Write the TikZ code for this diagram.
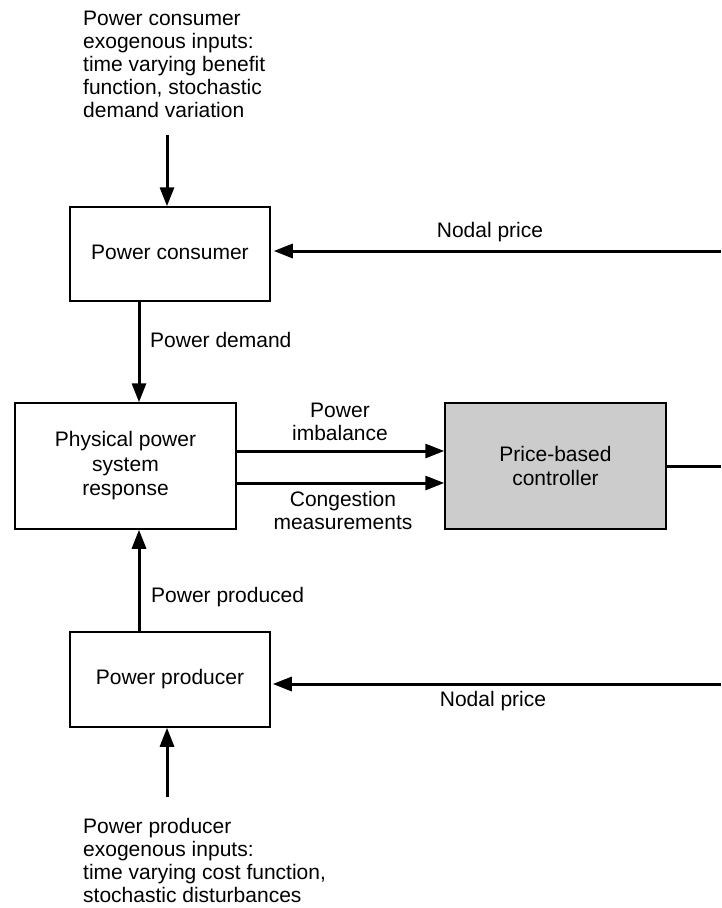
\documentclass[tikz,border=0pt]{standalone}
\usepackage{fontspec}
\setmainfont{Liberation Sans}
\usetikzlibrary{arrows.meta}
\definecolor{ctrlgray}{HTML}{CCCCCC}
\tikzset{
  blk/.style={draw=black, line width=1.5pt, minimum width=200pt, minimum height=94pt,
    align=center, inner sep=0pt, font=\fontsize{21}{24.5}\selectfont},
  wide/.style={blk, minimum width=221pt, minimum height=126pt},
  flow/.style={line width=3pt, -{Triangle[length=19pt,width=14pt]}},
  plain/.style={line width=3pt},
  lbl/.style={inner sep=0pt, font=\fontsize{21}{23}\selectfont},
}
\begin{document}
\begin{tikzpicture}[x=1pt,y=-1pt]
\useasboundingbox (0,0) rectangle (721,908);

% blocks
\node[blk] (cons) at (170,254) {\raisebox{3pt}{Power consumer}};
\node[wide] (phys) at (125.5,466) {Physical power\\system\\response};
\node[wide, fill=ctrlgray] (ctrl) at (555.5,466) {Price-based\\controller};
\node[blk, minimum height=95pt] (prod) at (170,679.5) {Power producer};

% exogenous inputs
\node[lbl, align=left, anchor=west] (consin) at (83,64)
  {Power consumer\\exogenous inputs:\\time varying benefit\\function, stochastic\\demand variation};
\node[lbl, align=left, anchor=west] (prodin) at (83,860)
  {Power producer\\exogenous inputs:\\time varying cost function,\\stochastic disturbances};
\coordinate (consinend) at (167,135);
\coordinate (prodinend) at (167,797);

% edge coordinates on the right border
\coordinate (ctrlout) at (721,466);
\coordinate (toppricein) at (721,251);
\coordinate (botpricein) at (721,684);

% connectors
\draw[flow] (consinend) -- (consinend |- cons.north);
\draw[flow] (prodinend) -- (prodinend |- prod.south);
\draw[flow] (cons.south -| 139,0) -- (phys.north -| 139,0);
\draw[flow] (prod.north -| 139,0) -- (phys.south -| 139,0);
\draw[flow] (phys.east |- 0,451) -- (ctrl.west |- 0,451);
\draw[flow] (phys.east |- 0,483) -- (ctrl.west |- 0,483);
\draw[plain] (ctrl.east) -- (ctrlout);
\draw[flow, shorten >=3pt] (toppricein) -- (cons.east |- toppricein);
\draw[flow, shorten >=2pt] (botpricein) -- (prod.east |- botpricein);

% connector labels
\node[lbl] (npTop) at (490,232) {Nodal price};
\node[lbl] (npBot) at (493,701) {Nodal price};
\node[lbl, anchor=west] (dem) at (150,340) {Power demand};
\node[lbl, anchor=west] (prd) at (151,597) {Power produced};
\node[lbl, align=center] (imb) at (340,422) {Power\\imbalance};
\node[lbl, align=center] (cong) at (343,510) {Congestion\\measurements};
\end{tikzpicture}
\end{document}
